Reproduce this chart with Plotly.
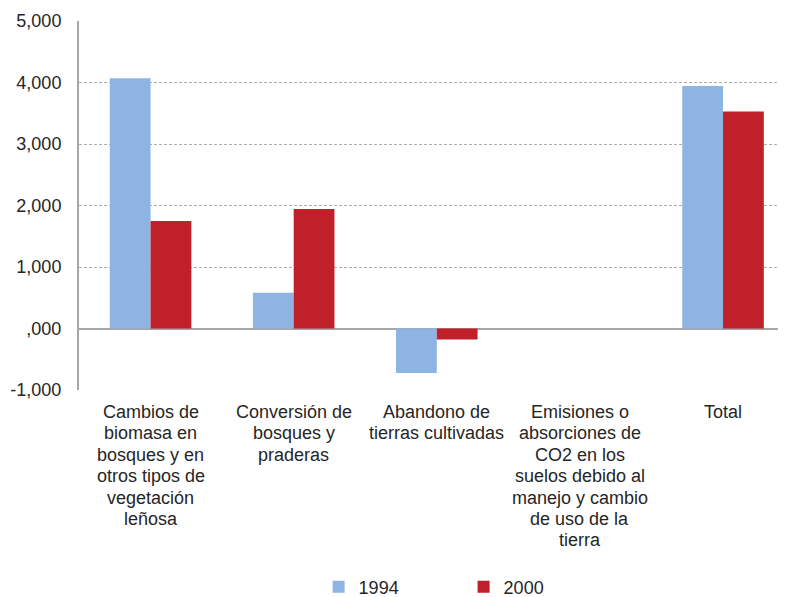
import plotly.graph_objects as go

categories = [
    "Cambios de<br>biomasa en<br>bosques y en<br>otros tipos de<br>vegetación<br>leñosa",
    "Conversión de<br>bosques y<br>praderas",
    "Abandono de<br>tierras cultivadas",
    "Emisiones o<br>absorciones de<br>CO2 en los<br>suelos debido al<br>manejo y cambio<br>de uso de la<br>tierra",
    "Total",
]
values_1994 = [4070, 580, -725, 0, 3945]
values_2000 = [1750, 1945, -180, 0, 3530]
y_tickvals = [-1000, 0, 1000, 2000, 3000, 4000, 5000]
y_ticktext = ["-1,000", ",000", "1,000", "2,000", "3,000", "4,000", "5,000"]

font = dict(family="Liberation Sans, Arial, sans-serif", size=18, color="#262626")

fig = go.Figure()
fig.add_trace(go.Bar(x=list(range(5)), y=values_1994, name="1994",
                     marker=dict(color="#8EB4E3", line=dict(width=0))))
fig.add_trace(go.Bar(x=list(range(5)), y=values_2000, name="2000",
                     marker=dict(color="#C0202A", line=dict(width=0))))

# category labels, one annotation per line for tight line spacing
line_step = 21.4
for i, label in enumerate(categories):
    for j, line in enumerate(label.split("<br>")):
        fig.add_annotation(
            x=i, xref="x", y=0, yref="paper", yanchor="top", xanchor="center",
            text=line, showarrow=False, font=font,
            yshift=-(10 + j * line_step),
        )

fig.update_layout(
    width=778, height=589,
    margin=dict(l=71, r=0, t=13, b=207, autoexpand=False),
    plot_bgcolor="white", paper_bgcolor="white",
    font=font,
    barmode="group", bargap=0.43, bargroupgap=0,
    showlegend=True,
    legend=dict(orientation="h", x=0.544, xanchor="center", y=-0.534, yanchor="middle",
                font=font, entrywidth=100, itemwidth=30),
    xaxis=dict(
        tickmode="array", tickvals=list(range(5)), showticklabels=False,
        range=[-0.5, 4.44], showgrid=False, zeroline=False, showline=False,
        ticks="", automargin=False,
    ),
    yaxis=dict(
        range=[-1000, 5000], tickmode="array", tickvals=y_tickvals, ticktext=y_ticktext,
        showgrid=True, gridcolor="#ADADAD", griddash="3px,2px", gridwidth=1,
        zeroline=True, zerolinecolor="#A6A6A6", zerolinewidth=2,
        showline=True, linecolor="#A6A6A6", linewidth=2,
        tickfont=font, ticks="", ticklabelstandoff=12, automargin=False,
    ),
)

fig.write_html("out.html")
